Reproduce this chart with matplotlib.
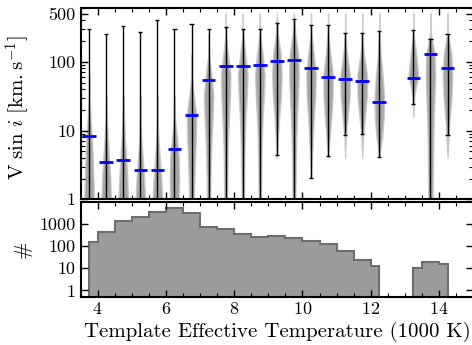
import numpy as np
import matplotlib
matplotlib.use('Agg')
import matplotlib.pyplot as plt
from matplotlib.ticker import MultipleLocator, LogLocator, NullLocator, NullFormatter

plt.rcParams['font.family'] = 'serif'
plt.rcParams['font.serif'] = ['cmr10']
plt.rcParams['mathtext.fontset'] = 'cm'
plt.rcParams['axes.formatter.use_mathtext'] = True
plt.rcParams['axes.unicode_minus'] = False

# template effective temperatures (1000 K)
temps = [3.75, 4.25, 4.75, 5.25, 5.75, 6.25, 6.75, 7.25, 7.75, 8.25, 8.75,
         9.25, 9.75, 10.25, 10.75, 11.25, 11.75, 12.25, 13.25, 13.75, 14.25]
# v sin i summary per template (km/s)
vsini_median = [8.2, 3.5, 3.7, 2.7, 2.7, 5.4, 17, 54, 86, 86, 89,
                102, 106, 80, 61, 57, 53, 26, 59, 131, 81]
vsini_min = [0.5, 0.5, 0.5, 0.5, 0.5, 0.5, 0.5, 0.5, 0.5, 0.5, 0.5,
             4.35, 0.5, 2.03, 4.3, 8.65, 8.95, 4.06, 24.3, 0.5, 8.65]
vsini_max = [298, 252, 333, 269, 408, 301, 356, 304, 325, 298, 304,
             369, 426, 341, 348, 266, 261, 284, 289, 217, 257]

# relative violin width at each v sin i grid point
vgrid = [0.5, 1, 2, 4, 8, 16, 32, 64, 128, 256, 512]
density = [
    [1.0, 1.0, 0.9, 0.75, 0.55, 0.3, 0.05, 0, 0, 0, 0],
    [1.0, 1.0, 0.85, 0.6, 0.35, 0.1, 0, 0, 0, 0, 0],
    [1.0, 1.0, 0.85, 0.6, 0.35, 0.12, 0, 0, 0, 0, 0],
    [1.0, 1.0, 0.8, 0.5, 0.2, 0.02, 0, 0, 0, 0, 0],
    [1.0, 1.0, 0.8, 0.5, 0.2, 0.02, 0, 0, 0, 0, 0],
    [0.8, 0.9, 1.0, 0.9, 0.5, 0.1, 0, 0, 0, 0, 0],
    [0.4, 0.5, 0.6, 0.75, 0.9, 1.0, 0.5, 0.05, 0, 0, 0],
    [0.3, 0.35, 0.4, 0.5, 0.65, 0.85, 1.0, 0.6, 0.05, 0, 0],
    [0.3, 0.3, 0.35, 0.4, 0.5, 0.7, 0.9, 1.0, 0.5, 0.02, 0],
    [0.2, 0.25, 0.3, 0.35, 0.45, 0.6, 0.85, 1.0, 0.55, 0.05, 0],
    [0.2, 0.25, 0.3, 0.35, 0.45, 0.6, 0.85, 1.0, 0.6, 0.08, 0],
    [0, 0, 0, 0, 0.25, 0.5, 0.85, 1.0, 0.8, 0.2, 0],
    [0.3, 0.3, 0.35, 0.4, 0.5, 0.65, 0.85, 1.0, 0.9, 0.3, 0],
    [0, 0, 0, 0.2, 0.4, 0.6, 0.9, 1.0, 0.6, 0.1, 0],
    [0, 0, 0, 0, 0.35, 0.7, 0.95, 1.0, 0.5, 0.08, 0],
    [0, 0, 0, 0, 0.15, 0.55, 0.95, 1.0, 0.4, 0.02, 0],
    [0, 0, 0, 0, 0.15, 0.55, 0.95, 0.95, 0.35, 0.02, 0],
    [0, 0, 0, 0, 0.6, 0.95, 1.0, 0.7, 0.3, 0.05, 0],
    [0, 0, 0, 0, 0, 0, 0.2, 1.0, 0.6, 0.05, 0],
    [0.4, 0.45, 0.5, 0.55, 0.6, 0.7, 0.85, 1.0, 0.9, 0.1, 0],
    [0, 0, 0, 0, 0.2, 0.5, 0.85, 1.0, 0.8, 0.1, 0],
]

# number of templates per temperature bin
hist_edges = [3.75, 4.0, 4.5, 5.0, 5.5, 6.0, 6.5, 7.0, 7.5, 8.0, 8.5, 9.0,
              9.5, 10.0, 10.5, 11.0, 11.5, 12.0, 12.25, 13.25, 13.5, 14.0, 14.25]
hist_counts = [157, 442, 1377, 2080, 3280, 4950, 2960, 697, 566, 360, 248,
               284, 230, 178, 126, 60, 24, 13, 0, 10, 19, 16]

fig = plt.figure(figsize=(4.72, 3.45), dpi=100)
ax1 = fig.add_axes([0.1708, 0.4223, 0.8316, 0.5536])
ax2 = fig.add_axes([0.1708, 0.1386, 0.8316, 0.2768])

# violins, each trimmed to where it has nonzero width
stats = []
for i in range(len(temps)):
    d = np.array(density[i], float)
    nz = np.nonzero(d)[0]
    lo, hi = max(nz[0] - 1, 0), min(nz[-1] + 1, len(d) - 1)
    stats.append(dict(coords=np.array(vgrid, float)[lo:hi + 1], vals=d[lo:hi + 1],
                      mean=vsini_median[i], median=vsini_median[i],
                      min=vsini_min[i], max=vsini_max[i]))
parts = ax1.violin(stats, positions=temps, widths=0.28, showmeans=False,
                   showextrema=False, showmedians=False)
for b in parts['bodies']:
    b.set_facecolor('#969696')
    b.set_edgecolor('#c8c8c8')
    b.set_linewidth(1.0)
    b.set_alpha(0.85)

t = np.array(temps)
ax1.vlines(t, vsini_min, vsini_max, color='k', lw=1.0, zorder=3)
ax1.hlines(vsini_max, t - 0.06, t + 0.06, color='k', lw=1.0, zorder=3)
ax1.hlines(vsini_min, t - 0.06, t + 0.06, color='k', lw=1.0, zorder=3)
ax1.hlines(vsini_median, t - 0.2, t + 0.2, color='#0000ff', lw=2, zorder=4)

ax1.set_yscale('log')
ax1.set_ylim(1, 600)
ax1.set_yticks([1, 10, 100, 500])
ax1.set_yticklabels(['1', '10', '100', '500'])
ax1.yaxis.set_minor_locator(LogLocator(base=10, subs=np.arange(2, 10)))
ax1.yaxis.set_minor_formatter(NullFormatter())
ax1.set_ylabel(r'$\mathrm{V}\ \sin\, i\ [\mathrm{km.s}^{-1}]$', fontsize=15)
ax1.yaxis.set_label_coords(-0.125, 0.48)

# histogram
counts = np.maximum(np.array(hist_counts, float), 0.1)
ax2.stairs(counts, hist_edges, baseline=0.1, fill=True, color='#9b9b9b', lw=0)
ax2.stairs(counts, hist_edges, baseline=0.1, fill=False, color='#6e6e6e', lw=1.5)
ax2.set_yscale('log')
ax2.set_ylim(0.5, 1e4)
ax2.set_yticks([1, 10, 100, 1000])
ax2.set_yticklabels(['1', '10', '100', '1000'])
ax2.yaxis.set_minor_locator(NullLocator())
ax2.set_ylabel('#', fontsize=15)
ax2.yaxis.set_label_coords(-0.125, 0.5)
ax2.set_xlabel('Template Effective Temperature (1000 K)', fontsize=15)
ax2.xaxis.set_label_coords(0.5, -0.26)

for ax in (ax1, ax2):
    ax.set_xlim(3.5, 15)
    ax.xaxis.set_major_locator(MultipleLocator(2))
    ax.xaxis.set_minor_locator(MultipleLocator(0.5))
    ax.tick_params(which='both', direction='in', top=True, right=True, labelsize=13)
    ax.tick_params(which='major', length=5, width=1.0)
    ax.tick_params(which='minor', length=3, width=0.8)
    for s in ax.spines.values():
        s.set_linewidth(1.5)
ax1.tick_params(labelbottom=False)
ax2.tick_params(axis='x', pad=3)

fig.savefig('out.png', dpi=100)
